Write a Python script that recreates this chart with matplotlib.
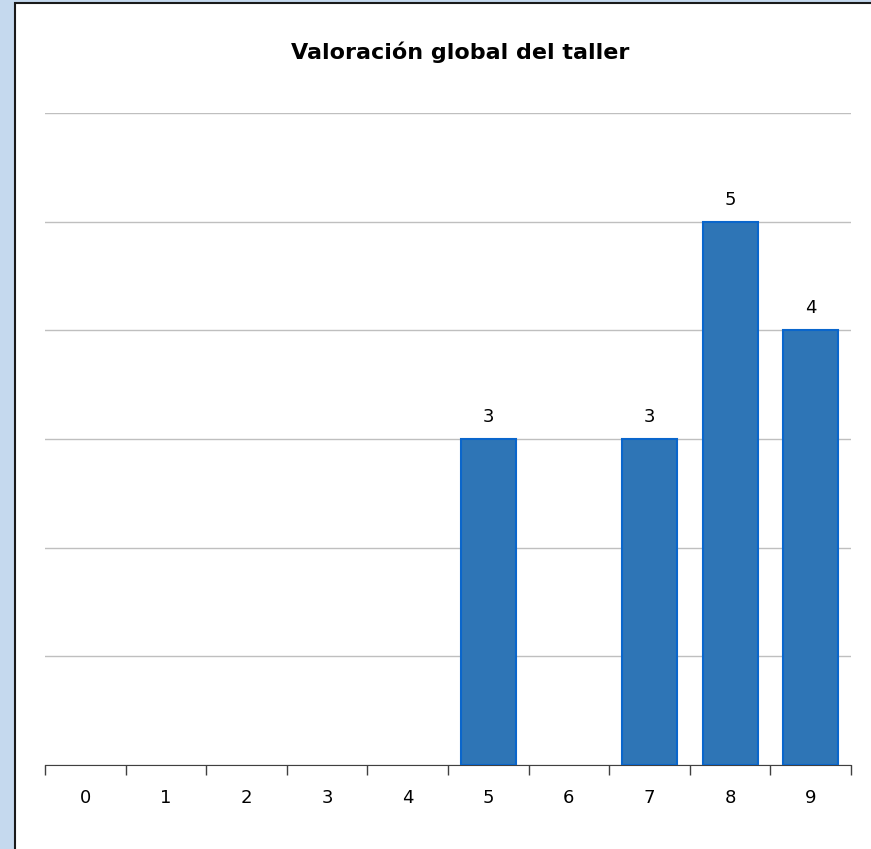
import numpy as np
import matplotlib.pyplot as plt
from matplotlib.patches import Rectangle

categories = ['0', '1', '2', '3', '4', '5', '6', '7', '8', '9']
counts = [0, 0, 0, 0, 0, 3, 0, 3, 5, 4]
title = 'Valoración global del taller'

plt.rcParams['font.family'] = ['DejaVu Sans']

fig = plt.figure(figsize=(8.71, 8.49), dpi=100)
fig.patch.set_facecolor('#C5D9EE')
fig.patches.append(Rectangle((15 / 871, -0.01), 1.0, 1 - 3 / 849 + 0.01,
                             transform=fig.transFigure, facecolor='white',
                             edgecolor='#1a1a1a', linewidth=1.5, zorder=-5))

ax = fig.add_axes([45 / 871, 84 / 849, 806 / 871, 652 / 849])
ax.set_zorder(5)
ax.set_facecolor('none')

x = np.arange(len(categories))
lw = [1.5 if v > 0 else 0 for v in counts]
bars = ax.bar(x, counts, width=0.68, color='#2E75B6', edgecolor='#0A66CC', linewidth=lw, zorder=3)
for xi, v in zip(x, counts):
    if v > 0:
        ax.text(xi, v + 0.12, str(v), ha='center', va='bottom', fontsize=13, color='black')

ax.set_xlim(-0.5, len(categories) - 0.5)
ax.set_ylim(0, 6)
ax.set_yticks(np.arange(0, 7))
ax.yaxis.grid(True, color='#BFBFBF', linewidth=1)
ax.set_axisbelow(True)
ax.tick_params(axis='y', left=False, labelleft=False)

ax.set_xticks(x)
ax.set_xticklabels(categories, fontsize=13)
ax.set_xticks(np.arange(-0.5, len(categories)), minor=True)
ax.tick_params(axis='x', which='major', length=0, pad=17)
ax.tick_params(axis='x', which='minor', length=7, color='#404040', width=1)

for s in ['top', 'right', 'left']:
    ax.spines[s].set_visible(False)
ax.spines['bottom'].set_color('#404040')

fig.text(460 / 871, 1 - 52 / 849, title, ha='center', va='center', fontsize=16, fontweight='bold')

fig.savefig('out.png', dpi=100)
